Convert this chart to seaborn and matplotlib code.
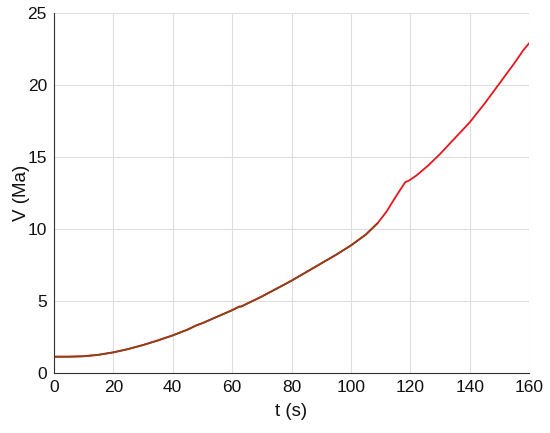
import pandas as pd
import seaborn as sns
import matplotlib.pyplot as plt

# Velocity vs time
t = [0, 5, 10, 15, 20, 25, 30, 35, 40, 45, 48, 50, 55, 60, 62.4, 63, 65, 70, 75, 80,
     85, 90, 95, 100, 105, 109, 112, 115, 118.3, 119.5, 122, 126, 130, 135, 140, 145,
     150, 155, 158, 160]
v = [1.12, 1.12, 1.15, 1.25, 1.42, 1.65, 1.93, 2.25, 2.6, 3.0, 3.3, 3.45, 3.9, 4.35,
     4.6, 4.6, 4.8, 5.3, 5.85, 6.4, 7.0, 7.6, 8.2, 8.85, 9.6, 10.4, 11.2, 12.2, 13.25,
     13.35, 13.7, 14.4, 15.2, 16.3, 17.4, 18.7, 20.1, 21.5, 22.4, 22.9]
t_split = 109.5  # end of the darker first-stage trace

df = pd.DataFrame({'t': t, 'v': v})
stage1 = df[df['t'] <= t_split]

sns.set_style('whitegrid', {'grid.color': '#dedede', 'axes.edgecolor': '#333333'})
plt.rcParams['font.family'] = ['Liberation Sans', 'DejaVu Sans']

fig = plt.figure(figsize=(5.5, 4.33), dpi=100)
ax = fig.add_axes([0.098, 0.139, 0.864, 0.831])

sns.lineplot(x='t', y='v', data=df, color='#e8141c', linewidth=1.3, ax=ax)
sns.lineplot(x='t', y='v', data=stage1, color='#8a4218', linewidth=1.3, ax=ax)

ax.set_xlim(0, 160)
ax.set_ylim(0, 25)
ax.set_xticks(range(0, 161, 20))
ax.set_yticks(range(0, 26, 5))
ax.set_xlabel('t (s)', fontsize=13.5, labelpad=6)
ax.set_ylabel('V (Ma)', fontsize=13.5, labelpad=-2)
ax.tick_params(labelsize=12.5, direction='in', length=4, color='#333333', colors='#111111', pad=5)
ax.xaxis.label.set_color('#111111')
ax.yaxis.label.set_color('#111111')
ax.spines['top'].set_visible(False)
ax.spines['right'].set_visible(False)
ax.grid(True, linewidth=0.8)

plt.savefig('out.png', dpi=100)
